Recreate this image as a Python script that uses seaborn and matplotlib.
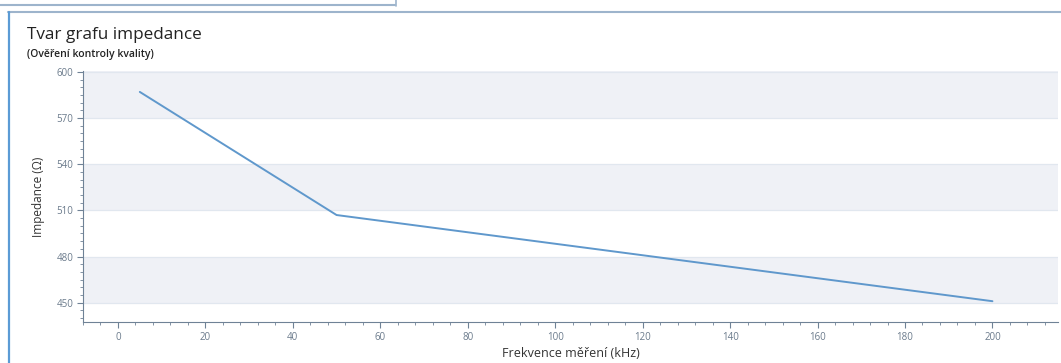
import matplotlib
matplotlib.use("Agg")
import matplotlib.pyplot as plt
import seaborn as sns
import pandas as pd
from matplotlib.ticker import MultipleLocator
from matplotlib.lines import Line2D

# Data
frekvence = [5, 50, 200]
impedance = [587, 507, 451]
x_ticks = [0, 20, 40, 60, 80, 100, 120, 140, 160, 180, 200]
y_ticks = [450, 480, 510, 540, 570, 600]

title = "Tvar grafu impedance"
subtitle = "(Ověření kontroly kvality)"
x_label = "Frekvence měření (kHz)"
y_label = "Impedance (Ω)"

sns.set_theme(style="white")
plt.rcParams['font.family'] = ['Open Sans', 'DejaVu Sans']

df = pd.DataFrame({"f": frekvence, "z": impedance})

fig = plt.figure(figsize=(10.61, 3.63), dpi=100)
ax = fig.add_axes([0.0782, 0.113, 0.919, 0.691])

tick_col = "#6f8296"
text_col = "#6b7b8c"

# alternating bands
ylo, yhi = 437.5, 600.5
ax.set_ylim(ylo, yhi)
ax.set_xlim(-8, 215)
for i in range(len(y_ticks) - 1):
    a, b = y_ticks[i], y_ticks[i + 1]
    if i % 2 == 0:
        ax.axhspan(a, b, color="#eff1f6", zorder=0, lw=0)
ax.axhspan(600, yhi, color="#eff1f6", zorder=0, lw=0)
for y in y_ticks:
    ax.axhline(y, color="#e1e7ef", lw=0.9, zorder=0.5)

sns.lineplot(data=df, x="f", y="z", ax=ax, color="#5f98cc", lw=1.4, zorder=3)

ax.set_xticks(x_ticks)
ax.set_yticks(y_ticks)
ax.xaxis.set_minor_locator(MultipleLocator(4))
ax.yaxis.set_minor_locator(MultipleLocator(5))
ax.tick_params(axis="both", which="major", length=4, width=0.8, color=tick_col,
               labelsize=7, labelcolor=text_col, pad=3, direction="out")
ax.tick_params(axis="both", which="minor", length=2, width=0.6, color=tick_col, direction="out")
ax.tick_params(axis="x", which="both", bottom=True)
ax.tick_params(axis="y", which="both", left=True)

for s in ["top", "right"]:
    ax.spines[s].set_visible(False)
for s in ["left", "bottom"]:
    ax.spines[s].set_color(tick_col)
    ax.spines[s].set_linewidth(0.8)

ax.set_xlabel(x_label, fontsize=9, color="#333333", labelpad=3)
ax.set_ylabel(y_label, fontsize=8.5, color="#333333", labelpad=8)

fig.text(27 / 1061, 1 - 35 / 363, title, fontsize=12.3, color="#222222", va="center", ha="left")
fig.text(27 / 1061, 1 - 55 / 363, subtitle, fontsize=7.5, color="#222222", va="center", ha="left",
         fontweight="semibold")

# panel frames
W, H = 1061, 363
def px(x): return x / W
def py(y): return 1 - y / H
fig.add_artist(Line2D([px(0), px(395)], [py(5), py(5)], color="#9db4cc", lw=1.5))
fig.add_artist(Line2D([px(396), px(396)], [py(0), py(6)], color="#9db4cc", lw=1.2))
fig.add_artist(Line2D([px(8), px(1061)], [py(12), py(12)], color="#9db4cc", lw=1.5))
fig.add_artist(Line2D([px(9), px(9)], [py(12), py(363)], color="#5b9bd5", lw=1.6))

fig.savefig("out.png", dpi=100)
